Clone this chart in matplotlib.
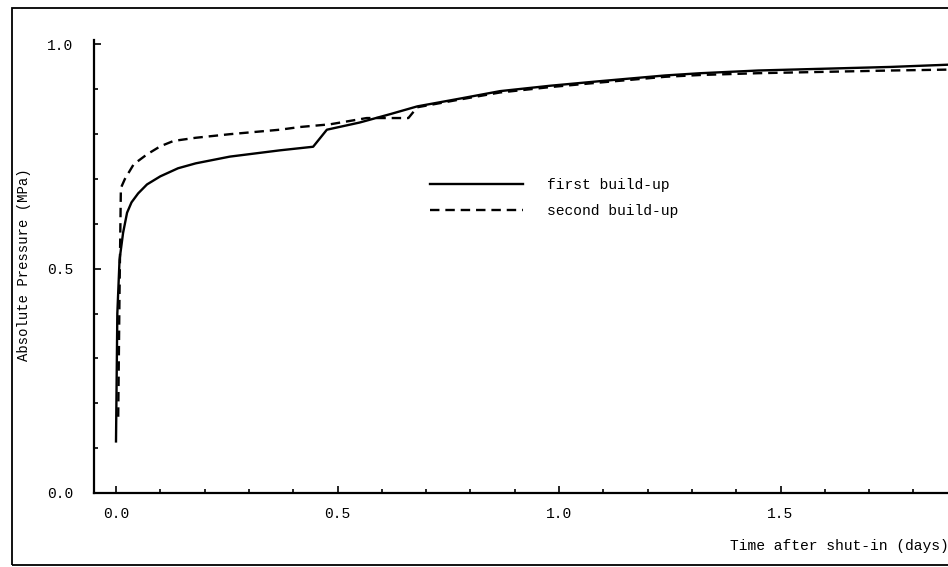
import matplotlib
matplotlib.use("Agg")
import matplotlib.pyplot as plt
from matplotlib.patches import Rectangle

# ---- data (days, MPa) ----
t_first = [0.0, 0.003, 0.008, 0.016, 0.025, 0.035, 0.05, 0.07, 0.10, 0.14, 0.18, 0.257, 0.37, 0.445,
           0.476, 0.55, 0.62, 0.68, 0.78, 0.867, 0.98, 1.09, 1.24, 1.32, 1.45, 1.6, 1.75, 1.88]
p_first = [0.115, 0.40, 0.52, 0.58, 0.625, 0.648, 0.668, 0.688, 0.706, 0.724, 0.735, 0.75, 0.764, 0.772,
           0.81, 0.826, 0.845, 0.862, 0.88, 0.896, 0.908, 0.918, 0.931, 0.936, 0.942, 0.946, 0.950, 0.955]

t_second = [0.005, 0.008, 0.011, 0.02, 0.04, 0.07, 0.10, 0.13, 0.18, 0.257, 0.37, 0.415,
            0.483, 0.566, 0.66, 0.68, 0.78, 0.867, 0.98, 1.09, 1.24, 1.32, 1.45, 1.6, 1.75, 1.88]
p_second = [0.17, 0.45, 0.68, 0.70, 0.733, 0.755, 0.773, 0.785, 0.792, 0.80, 0.81, 0.816,
            0.822, 0.836, 0.836, 0.86, 0.878, 0.893, 0.905, 0.915, 0.928, 0.932, 0.936, 0.939, 0.942, 0.944]

labels = ["first build-up", "second build-up"]
x_major = [0.0, 0.5, 1.0, 1.5]
y_major = [0.0, 0.5, 1.0]
xlabel = "Time after shut-in (days)"
ylabel = "Absolute Pressure (MPa)"

W, H = 948, 567
fig = plt.figure(figsize=(W / 100, H / 100), dpi=100)
font = "Liberation Mono"
fs = 10.5

# axes placement in pixels
x0_px, y0_px, y1_px = 94, 493, 40
px_per_day = 443.0
xmin = -(116 - x0_px) / px_per_day
xmax = xmin + (W - x0_px) / px_per_day
ax = fig.add_axes([x0_px / W, 1 - y0_px / H, (W - x0_px) / W, (y0_px - y1_px) / H])
ax.set_xlim(xmin, xmax)
ax.set_ylim(0.0, 1.01)

ax.plot(t_first, p_first, color="black", lw=1.7, solid_joinstyle="round", label=labels[0])
ax.plot(t_second, p_second, color="black", lw=1.7, linestyle=(0, (4, 2.5)), label=labels[1])

for s in ["top", "right"]:
    ax.spines[s].set_visible(False)
for s in ["left", "bottom"]:
    ax.spines[s].set_linewidth(1.6)

ax.set_xticks(x_major)
ax.set_xticklabels([f"{v:.1f}" for v in x_major])
ax.set_yticks(y_major)
ax.set_yticklabels([f"{v:.1f}" for v in y_major])
ax.set_xticks([i / 10 for i in range(0, 19)], minor=True)
ax.set_yticks([i / 10 for i in range(0, 11)], minor=True)
ax.tick_params(which="both", direction="in", width=1.2, color="black")
ax.tick_params(which="major", length=5)
ax.tick_params(which="minor", length=3)
ax.tick_params(axis="x", which="major", pad=10)
ax.tick_params(axis="y", which="major", pad=15)
for lab in ax.get_xticklabels() + ax.get_yticklabels():
    lab.set_fontfamily(font)
    lab.set_fontsize(fs)

ax.patch.set_alpha(0)

leg = ax.legend(loc="upper left", bbox_to_anchor=((430 - x0_px) / (W - x0_px), (y0_px - 178) / (y0_px - y1_px)),
                frameon=False, handlelength=6.4, handletextpad=1.6, labelspacing=0.85,
                prop={"family": font, "size": fs}, borderaxespad=0, borderpad=0)

fig.text(24 / W, 1 - 265 / H, ylabel, rotation=90, ha="center", va="center",
         family=font, fontsize=fs - 0.5)
fig.text(730 / W, 1 - 546 / H, xlabel, ha="left", va="center", family=font, fontsize=fs)

# scanned page border
fig.patches.append(Rectangle((12 / W, 1 - 565 / H), (W + 20) / W, (565 - 8) / H,
                             transform=fig.transFigure, fill=False, lw=1.3, color="black"))

fig.savefig("out.png", dpi=100)
